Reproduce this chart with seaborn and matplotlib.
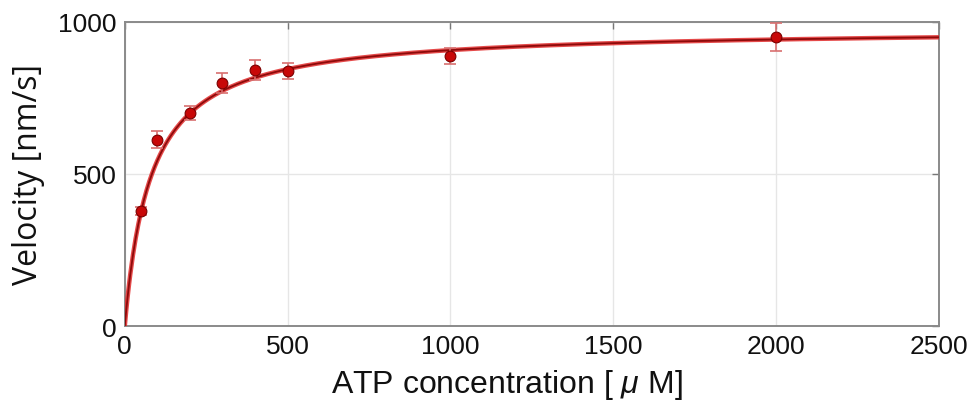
import numpy as np
import pandas as pd
import matplotlib
matplotlib.use('Agg')
import matplotlib.pyplot as plt
import seaborn as sns

atp_um = [50, 100, 200, 300, 400, 500, 1000, 2000]
velocity = [378, 612, 700, 799, 842, 839, 888, 951]
velocity_err = [12, 28, 23, 32, 32, 25, 25, 46]

# Michaelis-Menten fit parameters
vmax_fit = 980
km_fit = 80

x_ticks = [0, 500, 1000, 1500, 2000, 2500]
y_ticks = [0, 500, 1000]

sns.set_theme(style="white")
plt.rcParams['font.family'] = ['Liberation Sans', 'DejaVu Sans']
plt.rcParams['mathtext.fontset'] = 'custom'
plt.rcParams['mathtext.it'] = 'Liberation Sans:italic'

df = pd.DataFrame({'atp': atp_um, 'v': velocity, 'err': velocity_err})
conc = np.linspace(0, 2500, 600)
fit = pd.DataFrame({'atp': conc, 'v': vmax_fit * conc / (km_fit + conc)})

fig = plt.figure(figsize=(9.75, 4.1), dpi=100)
ax = fig.add_axes([0.128, 0.2024, 0.835, 0.7416])

ax.grid(True, color='#e6e6e6', lw=1)
ax.set_axisbelow(True)

# fitted curve: red halo with a darker core
sns.lineplot(data=fit, x='atp', y='v', ax=ax, color='#e02a2a', lw=3.2, alpha=0.85, zorder=3)
sns.lineplot(data=fit, x='atp', y='v', ax=ax, color='#8e0a0a', lw=1.3, zorder=4)

ax.errorbar(df['atp'], df['v'], yerr=df['err'], fmt='none', ecolor='#d87070',
            elinewidth=1.2, capsize=4, capthick=1.2, zorder=5)
sns.scatterplot(data=df, x='atp', y='v', ax=ax, color='#c80808', edgecolor='#7a0000',
                s=60, linewidth=0.8, zorder=6)

ax.set_xlim(0, 2500)
ax.set_ylim(0, 1000)
ax.set_xticks(x_ticks)
ax.set_yticks(y_ticks)
ax.tick_params(direction='in', length=5, width=1, color='#777777', top=True, right=True,
               labelsize=19, labelcolor='#111111', pad=6)
for s in ax.spines.values():
    s.set_color('#8a8a8a')
    s.set_linewidth(1.4)

ax.set_xlabel(r'ATP concentration [ $\mu$ M]', fontsize=23, color='#111111')
ax.xaxis.set_label_coords(0.469, -0.135)
ax.set_ylabel('Velocity [nm/s]', fontsize=23, color='#111111', labelpad=9,
              family=['Open Sans', 'DejaVu Sans'], fontweight='medium')

fig.savefig('out.png', dpi=100, facecolor='white')
